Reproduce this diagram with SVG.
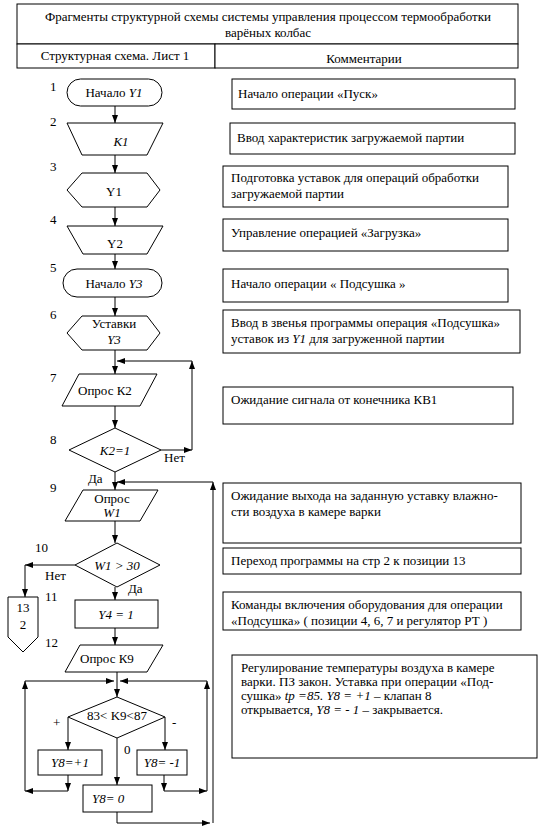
<svg xmlns="http://www.w3.org/2000/svg" width="545" height="840" viewBox="0 0 545 840">
<style>
.s{fill:#fff;stroke:#000;stroke-width:1}
.t{font-family:"Liberation Serif","Times New Roman",serif;font-size:13px;fill:#000}
.c{text-anchor:middle}
.i{font-style:italic}
.ln{fill:none;stroke:#000;stroke-width:1}
.a{marker-end:url(#ah)}
</style>
<defs>
<marker id="ah" markerWidth="8" markerHeight="6" refX="8" refY="3" orient="auto" markerUnits="userSpaceOnUse">
<path d="M0,0 L8,3 L0,6 z" fill="#000"/>
</marker>
</defs>
<rect width="545" height="840" fill="#fff"/>
<g id="header">
<rect class="s" x="17" y="4" width="501" height="40"/>
<text class="t c" x="268" y="21">Фрагменты структурной схемы системы управления процессом термообработки</text>
<text class="t c" x="268" y="37">варёных колбас</text>
<rect class="s" x="17" y="44" width="198" height="24"/>
<rect class="s" x="215" y="44" width="303" height="24"/>
<text class="t c" x="115" y="60">Структурная схема. Лист 1</text>
<text class="t c" x="364" y="63">Комментарии</text>
</g>
<g id="connectors">
<path class="ln a" d="M115,106 V123"/>
<path class="ln a" d="M115,155 V173"/>
<path class="ln a" d="M115,207 V226"/>
<path class="ln a" d="M115,254 V269"/>
<path class="ln a" d="M115,297 V316"/>
<path class="ln a" d="M115,350 V374"/>
<path class="ln a" d="M161,450 H192"/>
<path class="ln a" d="M192,450 V361"/>
<path class="ln a" d="M192,361 H117"/>
<path class="ln a" d="M115,406 V428"/>
<path class="ln a" d="M115,472 V490"/>
<path class="ln a" d="M213,823 V482"/>
<path class="ln a" d="M213,482 H117"/>
<path class="ln a" d="M115,520 V543"/>
<path class="ln a" d="M75,565 H25"/>
<path class="ln a" d="M25,565 V597"/>
<path class="ln a" d="M115,587 V600"/>
<path class="ln a" d="M115,628 V645"/>
<path class="ln a" d="M117,672 V697"/>
<path class="ln a" d="M25,791 V681"/>
<path class="ln a" d="M25,681 H114"/>
<path class="ln a" d="M207,791 V681"/>
<path class="ln a" d="M207,681 H120"/>
<path class="ln a" d="M68,717 V750"/>
<path class="ln a" d="M165,717 V750"/>
<path class="ln a" d="M117,738 V785"/>
<path class="ln a" d="M68,775 V791"/>
<path class="ln a" d="M68,791 H25"/>
<path class="ln a" d="M164,775 V791"/>
<path class="ln a" d="M164,791 H207"/>
<path class="ln a" d="M117,812 V823 H210"/>
<text class="t" x="164" y="462">Нет</text>
<text class="t" x="88" y="483">Да</text>
<text class="t" x="45" y="580">Нет</text>
<text class="t" x="128" y="593">Да</text>
<text class="t" x="53" y="727">+</text>
<text class="t" x="172" y="727">-</text>
<text class="t" x="124" y="754">0</text>
</g>
<g id="labels">
<text class="t" x="50" y="91">1</text>
<text class="t" x="50" y="126">2</text>
<text class="t" x="50" y="171">3</text>
<text class="t" x="50" y="224">4</text>
<text class="t" x="50" y="272">5</text>
<text class="t" x="50" y="319">6</text>
<text class="t" x="50" y="382">7</text>
<text class="t" x="50" y="444">8</text>
<text class="t" x="50" y="492">9</text>
<text class="t" x="35" y="552">10</text>
<text class="t" x="45" y="601">11</text>
<text class="t" x="45" y="647">12</text>
</g>
<g id="n1">
<rect class="s" x="67" y="79" width="95" height="27" rx="13.5"/>
<text class="t c" x="114" y="97">Начало <tspan class="i">Y1</tspan></text>
</g>
<g id="n2">
<polygon class="s" points="67,123 163,123 147,155 82,155"/>
<text class="t c i" x="121" y="146">K1</text>
</g>
<g id="n3">
<polygon class="s" points="67,190 82,173 147,173 160,190 147,207 82,207"/>
<text class="t c" x="114" y="196">Y1</text>
</g>
<g id="n4">
<polygon class="s" points="67,226 163,226 147,254 83,254"/>
<text class="t c" x="115" y="248">Y2</text>
</g>
<g id="n5">
<rect class="s" x="63" y="269" width="99" height="28" rx="14"/>
<text class="t c" x="114" y="288">Начало <tspan class="i">Y3</tspan></text>
</g>
<g id="n6">
<polygon class="s" points="67,333 82,316 147,316 160,333 147,350 82,350"/>
<text class="t c" x="114" y="328">Уставки</text>
<text class="t c i" x="114" y="344">Y3</text>
</g>
<g id="n7">
<polygon class="s" points="79,374 157,374 140,406 62,406"/>
<text class="t" x="78" y="395">Опрос К2</text>
</g>
<g id="n8">
<polygon class="s" points="115,428 161,450 115,472 69,450"/>
<text class="t c i" x="115" y="455">K2=1</text>
</g>
<g id="n9">
<polygon class="s" points="83,490 158,490 140,521 65,521"/>
<text class="t c" x="112" y="503">Опрос</text>
<text class="t c i" x="112" y="517">W1</text>
</g>
<g id="n10">
<polygon class="s" points="117,543 160,565 117,587 75,565"/>
<text class="t c i" x="117" y="570">W1 &gt; 30</text>
</g>
<g id="n11">
<polygon class="s" points="8,597 38,597 38,637 23,652 8,637"/>
<text class="t c" x="23" y="612">13</text>
<text class="t c" x="23" y="629">2</text>
</g>
<g id="n11b">
<rect class="s" x="75" y="600" width="83" height="28"/>
<text class="t c i" x="116" y="619">Y4 = 1</text>
</g>
<g id="n12">
<polygon class="s" points="80,645 163,645 147,672 65,672"/>
<text class="t" x="80" y="663">Опрос К9</text>
</g>
<g id="n13">
<polygon class="s" points="117,697 165,717 117,738 68,717"/>
<text class="t c" x="117" y="720">83&lt; K9&lt;87</text>
</g>
<g id="n14">
<rect class="s" x="38" y="750" width="64" height="25"/>
<text class="t c i" x="70" y="767">Y8=+1</text>
</g>
<g id="n15">
<rect class="s" x="137" y="750" width="50" height="25"/>
<text class="t c i" x="162" y="767">Y8= -1</text>
</g>
<g id="n16">
<rect class="s" x="83" y="785" width="69" height="27"/>
<text class="t i" x="92" y="803">Y8= 0</text>
</g>
<g id="comments">
<rect class="s" x="232" y="79" width="283" height="30"/>
<text class="t" x="238" y="98">Начало операции «Пуск»</text>
<rect class="s" x="230" y="123" width="285" height="31"/>
<text class="t" x="237" y="142">Ввод характеристик загружаемой партии</text>
<rect class="s" x="223" y="166" width="285" height="41"/>
<text class="t" x="231" y="182">Подготовка уставок для операций обработки</text>
<text class="t" x="231" y="198">загружаемой партии</text>
<rect class="s" x="223" y="219" width="285" height="32"/>
<text class="t" x="231" y="237">Управление операцией «Загрузка»</text>
<rect class="s" x="223" y="269" width="285" height="33"/>
<text class="t" x="231" y="288">Начало операции « Подсушка »</text>
<rect class="s" x="223" y="310" width="297" height="43"/>
<text class="t" x="231" y="327">Ввод в звенья программы операция «Подсушка»</text>
<text class="t" x="231" y="343">уставок из <tspan class="i">Y1</tspan> для загруженной партии</text>
<rect class="s" x="223" y="387" width="290" height="37"/>
<text class="t" x="231" y="404">Ожидание сигнала от конечника  КВ1</text>
<rect class="s" x="223" y="483" width="298" height="60"/>
<text class="t" x="231" y="500">Ожидание выхода на заданную уставку  влажно-</text>
<text class="t" x="231" y="516">сти воздуха в камере варки</text>
<rect class="s" x="223" y="548" width="298" height="26"/>
<text class="t" x="231" y="565">Переход программы на стр 2 к позиции 13</text>
<rect class="s" x="223" y="592" width="298" height="38"/>
<text class="t" x="231" y="609">Команды включения оборудования для  операции</text>
<text class="t" x="231" y="625">«Подсушка»  ( позиции 4, 6, 7 и регулятор РТ )</text>
<rect class="s" x="232" y="655" width="305" height="103"/>
<text class="t" x="241" y="672">Регулирование температуры воздуха в камере</text>
<text class="t" x="241" y="686">варки. ПЗ закон. Уставка при операции «Под-</text>
<text class="t" x="241" y="700">сушка» <tspan class="i">tp =85.</tspan>  <tspan class="i">Y8 = +1</tspan> – клапан 8</text>
<text class="t" x="241" y="714">открывается, <tspan class="i">Y8 = - 1</tspan> – закрывается.</text>
</g>
</svg>
